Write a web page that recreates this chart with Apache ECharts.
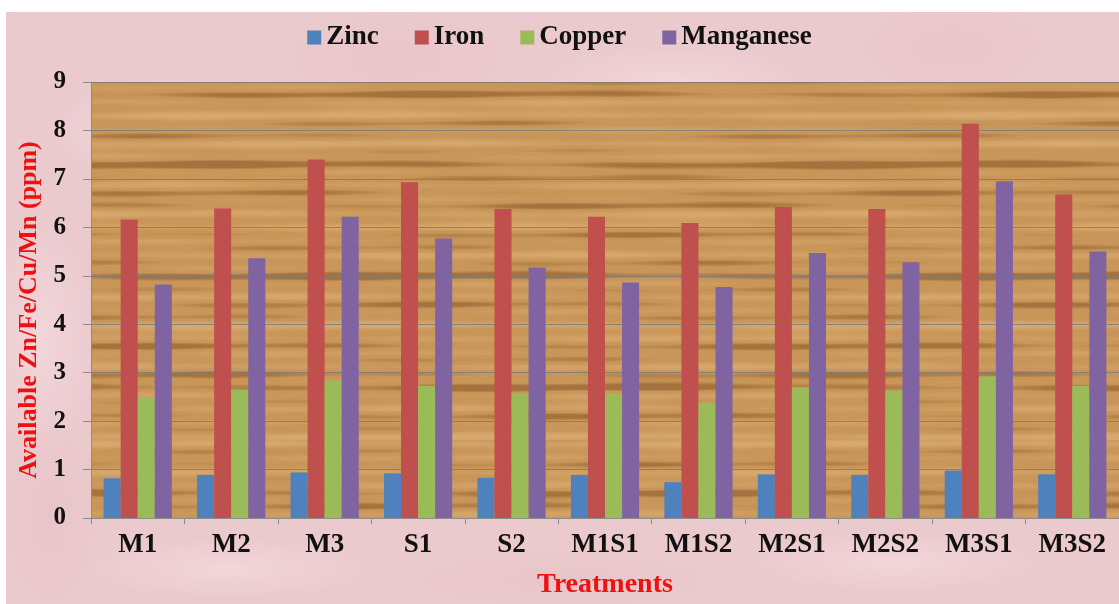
<!DOCTYPE html>
<html>
<head>
<meta charset="utf-8">
<script src="https://cdn.jsdelivr.net/npm/echarts@6/dist/echarts.min.js"></script>
<style>
  html, body { margin: 0; padding: 0; background: #ffffff; }
  #frame {
    position: absolute; left: 6px; top: 12px; width: 1113px; height: 592px;
    background-color: #ebcace;
    background-image:
      radial-gradient(ellipse 90px 50px at 12% 20%, rgba(248,226,229,0.6), transparent),
      radial-gradient(ellipse 120px 50px at 35% 8%, rgba(224,186,191,0.35), transparent),
      radial-gradient(ellipse 140px 40px at 60% 12%, rgba(248,226,229,0.5), transparent),
      radial-gradient(ellipse 100px 50px at 85% 6%, rgba(224,186,191,0.35), transparent),
      radial-gradient(ellipse 60px 120px at 3% 55%, rgba(248,226,229,0.5), transparent),
      radial-gradient(ellipse 50px 100px at 4% 85%, rgba(224,186,191,0.35), transparent),
      radial-gradient(ellipse 150px 30px at 20% 94%, rgba(248,226,229,0.5), transparent),
      radial-gradient(ellipse 160px 30px at 50% 96%, rgba(224,186,191,0.35), transparent),
      radial-gradient(ellipse 150px 30px at 80% 93%, rgba(248,226,229,0.5), transparent);
  }
  #chart { position: absolute; left: 0; top: 0; width: 1119px; height: 604px; }
</style>
</head>
<body>
<div id="frame"></div>
<div id="chart"></div>
<script>
// Available micronutrients per treatment (ppm)
const categories = ['M1', 'M2', 'M3', 'S1', 'S2', 'M1S1', 'M1S2', 'M2S1', 'M2S2', 'M3S1', 'M3S2'];
const zinc      = [0.82, 0.89, 0.94, 0.92, 0.83, 0.89, 0.74, 0.90, 0.89, 0.98, 0.90];
const iron      = [6.16, 6.39, 7.40, 6.93, 6.38, 6.22, 6.09, 6.42, 6.38, 8.14, 6.68];
const copper    = [2.49, 2.64, 2.84, 2.73, 2.57, 2.56, 2.38, 2.70, 2.63, 2.92, 2.73];
const manganese = [4.82, 5.36, 6.22, 5.77, 5.17, 4.86, 4.77, 5.47, 5.28, 6.95, 5.50];
const seriesNames = ['Zinc', 'Iron', 'Copper', 'Manganese'];
const yMin = 0, yMax = 9, yStep = 1;

const colors = ['#4f81bd', '#c0504d', '#9bbb59', '#8064a2'];
const serif = '"Liberation Serif", "Times New Roman", serif';

// Horizontal wood-grain fill for the plotting area
function woodPattern(w, h) {
  const c = document.createElement('canvas');
  c.width = w; c.height = h;
  const g = c.getContext('2d');
  g.fillStyle = '#c99659';
  g.fillRect(0, 0, w, h);
  for (let y = 0; y < h; y++) {
    const v = 0.45 * Math.sin(y * 0.45) + 0.35 * Math.sin(y * 0.173 + 1.3) + 0.2 * Math.sin(y * 0.061 + 0.4);
    for (let x = 0; x < w; x += 4) {
      const k = v + 0.3 * Math.sin(x * 0.009 + y * 0.21) + 0.15 * Math.sin(x * 0.031 - y * 0.09);
      if (k > 0) {
        g.fillStyle = 'rgba(232,190,136,' + Math.min(0.45, k * 0.4).toFixed(3) + ')';
      } else if (k < -0.35) {
        g.fillStyle = 'rgba(128,78,34,' + Math.min(0.5, (-k - 0.35) * 0.9).toFixed(3) + ')';
      } else {
        continue;
      }
      g.fillRect(x, y, 4, 1);
    }
  }
  return c;
}

const chart = echarts.init(document.getElementById('chart'), null, { renderer: 'canvas' });
const values = [zinc, iron, copper, manganese];

chart.setOption({
  backgroundColor: 'transparent',
  color: colors,
  legend: {
    data: seriesNames,
    top: 19,
    left: 'center',
    icon: 'rect',
    itemWidth: 14,
    itemHeight: 14,
    itemGap: 36,
    textStyle: { fontFamily: serif, fontWeight: 'bold', fontSize: 27, color: '#111' }
  },
  grid: {
    left: 91, top: 82, width: 1030, height: 440,
    show: true,
    borderWidth: 0,
    backgroundColor: { image: woodPattern(1130, 440), repeat: 'repeat' }
  },
  xAxis: {
    type: 'category',
    data: categories,
    name: 'Treatments',
    nameLocation: 'middle',
    nameGap: 53,
    nameTextStyle: { fontFamily: serif, fontWeight: 'bold', fontSize: 28, color: '#ee1111' },
    axisLine: { show: true, lineStyle: { color: '#8c8c8c', width: 1 } },
    axisTick: { show: true, length: 6, lineStyle: { color: '#8c8c8c' } },
    axisLabel: { fontFamily: serif, fontWeight: 'bold', fontSize: 27, color: '#111', margin: 14 }
  },
  yAxis: {
    type: 'value',
    min: yMin, max: yMax, interval: yStep,
    name: 'Available Zn/Fe/Cu/Mn (ppm)',
    nameLocation: 'middle',
    nameGap: 47,
    nameTextStyle: {
      fontFamily: serif, fontWeight: 'bold', fontSize: 26, color: '#ee1111',
      padding: [0, 20, 0, 0]
    },
    axisLine: { show: true, lineStyle: { color: '#8c8c8c', width: 1 } },
    axisTick: { show: true, length: 8, lineStyle: { color: '#8c8c8c' } },
    axisLabel: { fontFamily: serif, fontWeight: 'bold', fontSize: 25, color: '#111', margin: 25 },
    splitLine: { show: true, lineStyle: { color: 'rgba(125,125,125,0.85)', width: 1 } }
  },
  series: seriesNames.map((name, i) => ({
    name: name,
    type: 'bar',
    data: values[i],
    barGap: '0%',
    barCategoryGap: '27%',
    itemStyle: { color: colors[i] }
  }))
});
</script>
</body>
</html>
